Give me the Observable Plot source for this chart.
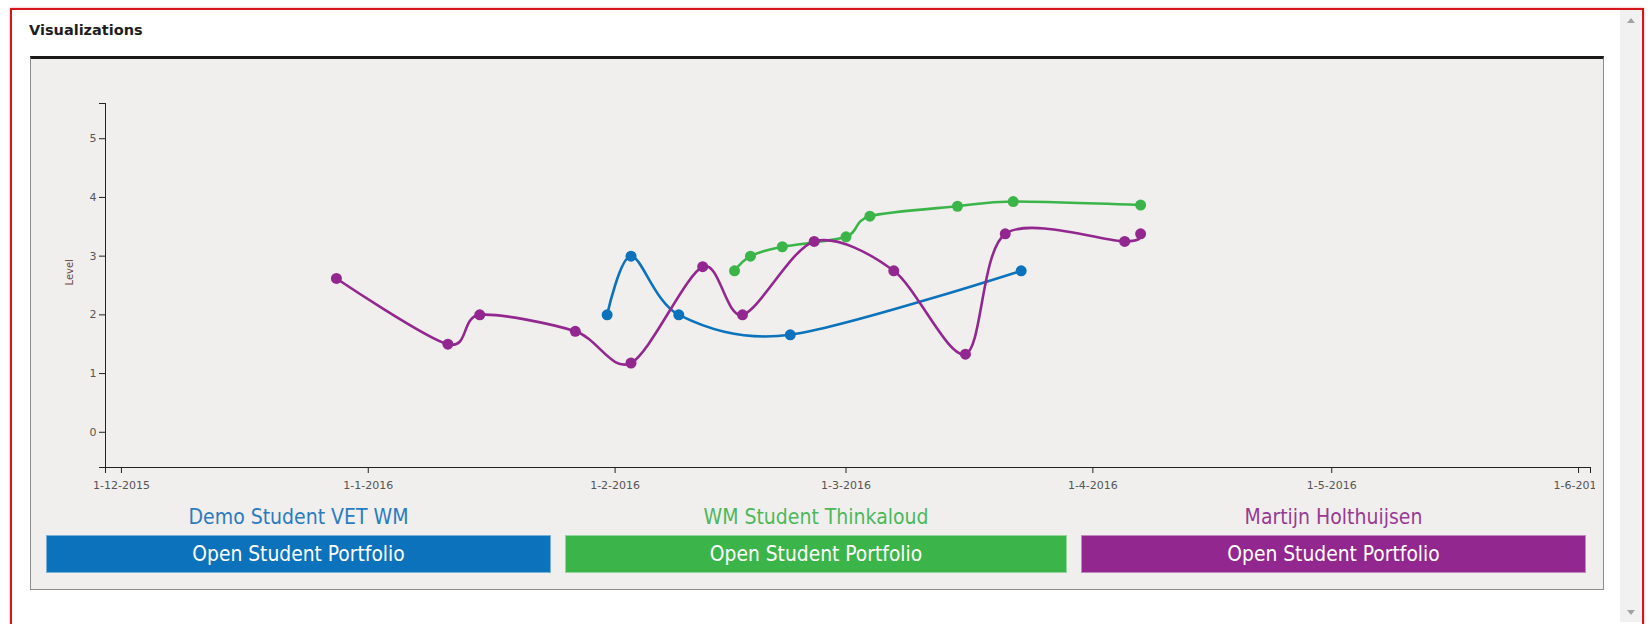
<!DOCTYPE html>
<html>
<head>
<meta charset="utf-8">
<script src="https://cdn.jsdelivr.net/npm/d3@7"></script>
<script src="https://cdn.jsdelivr.net/npm/@observablehq/plot@0.6"></script>
<style>
  html, body { margin: 0; padding: 0; background: #ffffff; width: 1649px; height: 624px; overflow: hidden; }
  #frame { position: absolute; left: 10px; top: 8px; width: 1634px; height: 620px; box-sizing: border-box;
           border: 2px solid #d4161c; box-shadow: 0 0 2px rgba(220,40,40,0.5); }
  #title { position: absolute; left: 29px; top: 22px; font: bold 14.5px "DejaVu Sans", sans-serif; color: #1e1e1e; }
  #scroll { position: absolute; left: 1620px; top: 10px; width: 22px; height: 612px; background: #f1f1f1; }
  .arrow { position: absolute; left: 1627px; width: 0; height: 0; border-left: 4px solid transparent; border-right: 4px solid transparent; }
  #up { top: 18px; border-bottom: 5px solid #a3a3a3; }
  #down { top: 610px; border-top: 5px solid #a3a3a3; }
  #panel { position: absolute; left: 30px; top: 56px; width: 1574px; height: 534px; box-sizing: border-box;
           background: #f0efed; border: 1px solid #8c8c8c; border-top: 3px solid #1a1a1a; }
  #chart { position: absolute; left: 31px; top: 59px; }
  #chart svg { overflow: hidden; }
  .name { position: absolute; top: 505px; height: 26px; line-height: 26px; font: 21px "DejaVu Sans Condensed", "DejaVu Sans", sans-serif; text-align: center; }
  .btn { position: absolute; top: 535px; height: 38px; box-sizing: border-box; color: #ffffff;
         font: 20.8px "DejaVu Sans Condensed", "DejaVu Sans", sans-serif; text-align: center; line-height: 36px;
         border: 1px solid rgba(255,255,255,0.45); }
</style>
</head>
<body>
<div id="frame"></div>
<div id="scroll"></div>
<div id="up" class="arrow"></div>
<div id="down" class="arrow"></div>
<div id="title">Visualizations</div>
<div id="panel"></div>
<div id="chart"></div>
<div id="legend"></div>
<script>
// ---- data ----
const students = ["Demo Student VET WM", "WM Student Thinkaloud", "Martijn Holthuijsen"];
const studentColors = ["#0b72bb", "#3bb54a", "#92278f"];
const nameColors = ["#2a7cc0", "#4cb85a", "#983a95"];
const buttonLabel = "Open Student Portfolio";

const demoDates  = ["2016-01-31", "2016-02-03", "2016-02-09", "2016-02-23", "2016-03-23"];
const demoLevels = [2.0, 3.0, 2.0, 1.66, 2.75];

const thinkDates  = ["2016-02-16", "2016-02-18", "2016-02-22", "2016-03-01", "2016-03-04", "2016-03-15", "2016-03-22", "2016-04-07"];
const thinkLevels = [2.75, 3.0, 3.16, 3.33, 3.68, 3.85, 3.93, 3.87];

const martijnDates  = ["2015-12-28", "2016-01-11", "2016-01-15", "2016-01-27", "2016-02-03", "2016-02-12", "2016-02-17", "2016-02-26", "2016-03-07", "2016-03-16", "2016-03-21", "2016-04-05", "2016-04-07"];
const martijnLevels = [2.62, 1.5, 2.0, 1.72, 1.18, 2.82, 2.0, 3.25, 2.75, 1.33, 3.38, 3.25, 3.38];

const xDomainDates = ["2015-11-29T00:00:00Z", "2016-06-02T12:00:00Z"];
const xTickDates = ["2015-12-01", "2016-01-01", "2016-02-01", "2016-03-01", "2016-04-01", "2016-05-01", "2016-06-01"];
const yDomainLevels = [-0.6, 5.6];
const yTickLevels = [0, 1, 2, 3, 4, 5];
const yAxisLabel = "Level";

// ---- build table ----
const series = [[demoDates, demoLevels], [thinkDates, thinkLevels], [martijnDates, martijnLevels]];
const rows = [];
series.forEach(([ds, ls], i) => ds.forEach((d, j) => rows.push({student: students[i], date: new Date(d), level: ls[j]})));
const xDomain = xDomainDates.map(d => new Date(d));
const xTicks = xTickDates.map(d => new Date(d));
const fmt = d3.utcFormat("%-d-%-m-%Y");

const chart = Plot.plot({
  width: 1564,
  height: 441,
  marginLeft: 74,
  marginRight: 5,
  marginTop: 44,
  marginBottom: 33,
  style: {background: "transparent", fontFamily: "DejaVu Sans, sans-serif", fontSize: "11px", color: "#4a4a4a", overflow: "hidden"},
  x: {type: "utc", domain: xDomain},
  y: {domain: yDomainLevels},
  color: {domain: students, range: studentColors},
  marks: [
    Plot.ruleX([xDomain[0]], {stroke: "#222"}),
    Plot.ruleY([yDomainLevels[0]], {stroke: "#222"}),
    Plot.axisY(yTickLevels, {tickSize: 6, tickPadding: 3, tickFormat: d3.format("d"), label: null, stroke: "#222", fill: "#555"}),
    Plot.axisY(yDomainLevels, {tickSize: 6, tickFormat: () => "", label: null, stroke: "#222"}),
    Plot.axisX(xTicks, {tickSize: 6, tickPadding: 8, tickFormat: fmt, label: null, stroke: "#222", fill: "#555"}),
    Plot.axisX(xDomain, {tickSize: 6, tickFormat: () => "", label: null, stroke: "#222"}),
    Plot.text([yAxisLabel], {frameAnchor: "left", rotate: -90, dx: -36, fill: "#6e4545", fontSize: 10}),
    Plot.line(rows, {x: "date", y: "level", z: "student", stroke: "student", curve: "cardinal", tension: 0.1, strokeWidth: 2.6}),
    Plot.dot(rows, {x: "date", y: "level", fill: "student", r: 5.5})
  ]
});
document.getElementById("chart").appendChild(chart);

// ---- legend: names + buttons ----
const legend = document.getElementById("legend");
const btnLeft = [46, 565, 1081];
const btnWidth = [505, 502, 505];
students.forEach((s, i) => {
  const n = document.createElement("div");
  n.className = "name";
  n.style.left = btnLeft[i] + "px";
  n.style.width = btnWidth[i] + "px";
  n.style.color = nameColors[i];
  n.textContent = s;
  legend.appendChild(n);
  const b = document.createElement("div");
  b.className = "btn";
  b.style.left = btnLeft[i] + "px";
  b.style.width = btnWidth[i] + "px";
  b.style.background = studentColors[i];
  b.textContent = buttonLabel;
  legend.appendChild(b);
});
</script>
</body>
</html>
